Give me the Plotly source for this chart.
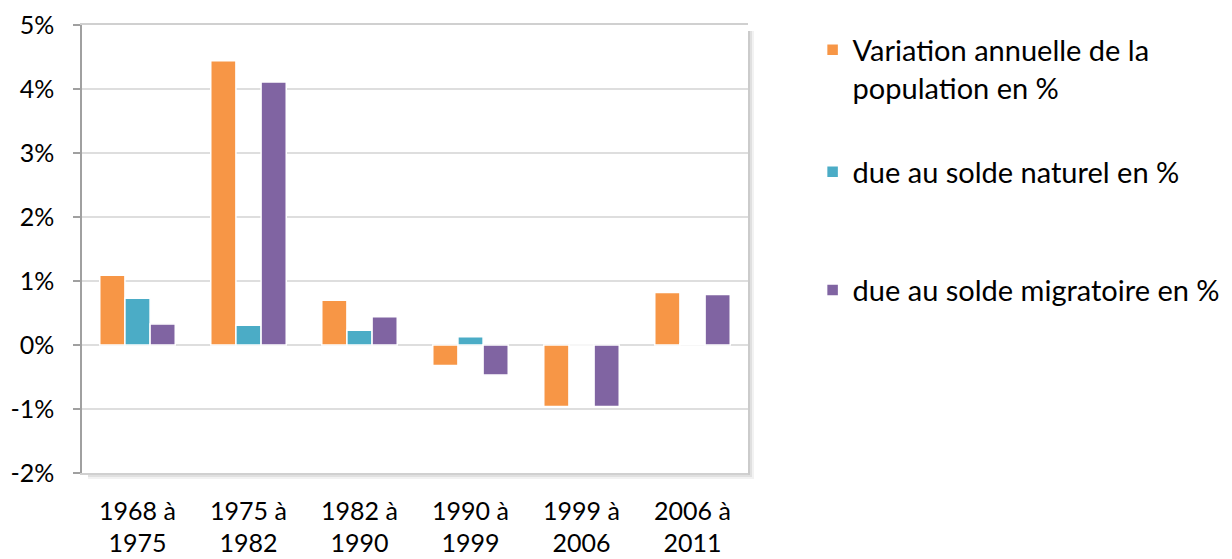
import plotly.graph_objects as go

periods = ["1968 à<br>1975", "1975 à<br>1982", "1982 à<br>1990",
           "1990 à<br>1999", "1999 à<br>2006", "2006 à<br>2011"]
variation = [1.09, 4.44, 0.70, -0.32, -0.96, 0.82]
naturel = [0.73, 0.31, 0.23, 0.13, 0.0, 0.02]
migratoire = [0.33, 4.11, 0.44, -0.47, -0.96, 0.79]

y_ticks = [-2, -1, 0, 1, 2, 3, 4, 5]
y_labels = ["-2%", "-1%", "0%", "1%", "2%", "3%", "4%", "5%"]

names = ["Variation annuelle de la<br>population en %",
         "due au solde naturel en %",
         "due au solde migratoire en %"]
colors = ["#F79646", "#4BACC6", "#8064A2"]
legend_ids = ["legend", "legend2", "legend3"]
legend_y = [0.902, 0.672, 0.408]

FONT = "Lato"

fig = go.Figure()
for vals, name, col, lg in zip([variation, naturel, migratoire], names, colors, legend_ids):
    fig.add_trace(go.Bar(
        x=periods, y=vals, name=name, legend=lg, showlegend=True,
        marker=dict(color=col, line=dict(color="white", width=1.5)),
    ))

# soft shadow behind the plot frame, then a white plot panel
shapes = []
for k, op in [(6, 0.05), (4, 0.07), (2, 0.09)]:
    shapes.append(dict(type="rect", xref="paper", yref="paper", layer="below",
                       x0=6 / 666, x1=1 + k / 666, y0=-k / 448, y1=1 - 6 / 448,
                       fillcolor="rgba(0,0,0,%s)" % op, line=dict(width=0)))
shapes.append(dict(type="rect", xref="paper", yref="paper", layer="below",
                   x0=0, x1=1, y0=0, y1=1, fillcolor="white", line=dict(width=0)))

legend_font = dict(family=FONT, size=29, color="#000000")
legends = {}
for lg, ly in zip(legend_ids, legend_y):
    legends[lg] = dict(x=1.097, xanchor="left", y=ly, yanchor="middle",
                       valign="top", bgcolor="rgba(0,0,0,0)", font=legend_font)

# the page body has an 8px margin, so the figure is 8px smaller and shifted
fig.update_layout(
    width=1224, height=551,
    margin=dict(l=74, r=484, t=17, b=86, autoexpand=False),
    paper_bgcolor="white", plot_bgcolor="rgba(0,0,0,0)",
    font=dict(family=FONT, size=25, color="#000000"),
    showlegend=True,
    barmode="group", bargap=0.32, bargroupgap=0,
    shapes=shapes,
    xaxis=dict(showline=True, linecolor="#d0d0d0", linewidth=1.5, mirror=True,
               ticks="", tickson="boundaries", showgrid=False, automargin=False,
               ticklabelstandoff=15, tickfont=dict(size=25)),
    xaxis2=dict(overlaying="x", anchor="free", position=2 / 7, range=[-0.5, 5.5],
                showline=True, linecolor="#8c8c8c", linewidth=1.5,
                tickvals=[0.5, 1.5, 2.5, 3.5, 4.5, 5.5], ticks="outside",
                ticklen=7, tickcolor="#8c8c8c", tickwidth=1.5, automargin=False,
                showticklabels=False, showgrid=False, zeroline=False),
    yaxis=dict(range=[-2, 5], tickvals=y_ticks, ticktext=y_labels, showgrid=True,
               gridcolor="#dedede", gridwidth=1.5, zeroline=False, automargin=False,
               showline=True, linecolor="#a0a0a0", linewidth=1.5,
               ticks="outside", ticklen=7, tickcolor="#a0a0a0", tickwidth=1.5,
               ticklabelstandoff=14, tickfont=dict(size=25)),
    **legends,
)

fig.write_html("out.html", config={"displayModeBar": False})
